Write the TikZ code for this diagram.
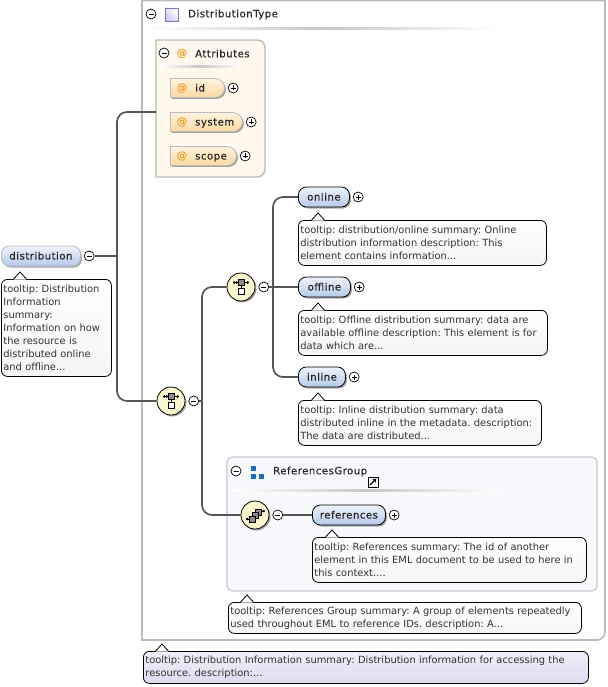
\documentclass[tikz,border=0pt]{standalone}
\usepackage{fontspec}
\setmainfont{DejaVu Sans}
\newfontfamily\labelfont[FakeBold=0.35,LetterSpace=5]{DejaVu Sans}
\usetikzlibrary{positioning,shapes.misc,shadows,arrows.meta}

\definecolor{boxgray}{HTML}{BBBBBB}
\definecolor{connline}{HTML}{555555}
\definecolor{attrfill}{HTML}{FFF8EC}
\definecolor{atorange}{HTML}{F0A030}
\definecolor{groupfill}{HTML}{F8F9FC}
\definecolor{groupedge}{HTML}{C6CAD2}
\definecolor{groupblue}{HTML}{1F6FB8}
\definecolor{elemtop}{HTML}{EEF3FB}
\definecolor{elembottom}{HTML}{B5CAEA}
\definecolor{attrtop}{HTML}{FFF3E0}
\definecolor{attrbottom}{HTML}{FCD9A0}
\definecolor{lavtop}{HTML}{F0EEF8}
\definecolor{lavbottom}{HTML}{DFDBF0}
\definecolor{typeedge}{HTML}{8A70C0}
\definecolor{typefill}{HTML}{CFC6EA}
\definecolor{compfill}{HTML}{FBF7CF}

\tikzset{
  softshadow/.style={drop shadow={shadow xshift=1.5pt, shadow yshift=-1.5pt, fill=black, opacity=.35}},
  conn/.style={draw=connline, line width=1.7pt},
  labeltext/.style={font=\fontsize{10.1}{12}\labelfont\selectfont, text=black!85},
  atsign/.style={text=atorange, font=\fontsize{10.4}{12}\labelfont\selectfont, inner sep=0pt},
  elem/.style={labeltext, draw=black, line width=.8pt, rounded corners=8pt, minimum height=20pt, inner sep=0pt,
    top color=elemtop, bottom color=elembottom, softshadow, text height=8.5pt, text depth=1.5pt},
  attr/.style={labeltext, rounded rectangle, rounded rectangle west arc=none, draw=boxgray, line width=.8pt,
    minimum height=19pt, inner sep=0pt, top color=attrtop, bottom color=attrbottom, softshadow},
  tip/.style={draw=black, line width=.8pt, rounded corners=6pt, anchor=north west, inner sep=2pt, align=left,
    font=\fontsize{9.9}{13}\selectfont, text=black!80, top color=white, bottom color=black!4},
  btn/.style={circle, draw=black, fill=white, line width=.7pt, minimum size=10pt, inner sep=0pt},
  btnminus/.style={btn, path picture={
    \draw ([xshift=-2.5pt]path picture bounding box.center) -- ([xshift=2.5pt]path picture bounding box.center);}},
  btnplus/.style={btn, path picture={
    \draw ([xshift=-2.5pt]path picture bounding box.center) -- ([xshift=2.5pt]path picture bounding box.center);
    \draw ([yshift=-2.5pt]path picture bounding box.center) -- ([yshift=2.5pt]path picture bounding box.center);}},
  compositor/.style={circle, draw=black, line width=.8pt, fill=compfill, minimum size=28pt, inner sep=0pt, softshadow},
  headrule/.style={left color=white, right color=white, middle color=black!22},
  icon/.style={draw=black, line width=.7pt},
}

\begin{document}
\frenchspacing
\begin{tikzpicture}[x=1pt, y=-1pt]
\useasboundingbox (0,0) rectangle (607,687);

% type box
\draw[draw=boxgray, line width=1.6pt, fill=white] (142,640) -- (142,0.5) -- (605,0.5) -- (605,630)
  [rounded corners=8pt] -- (605,640) -- (590,640) [sharp corners] -- cycle;
\node[btnminus] (minustype) at (151,14) {};
\draw[draw=typeedge, line width=.8pt, top color=typefill, bottom color=white, shading angle=135] (165,8) rectangle (178,21);
\node[labeltext, anchor=west, inner sep=0pt] (typelabel) at (188,14.5) {DistributionType};
\shade[headrule] (146,28) rectangle (500,30);

% attributes
\draw[draw=boxgray, line width=1.4pt, fill=attrfill] (156,40) -- (250,40)
  [rounded corners=8pt] -- (265,40) -- (265,177) -- (250,177) [sharp corners] -- (156,177) -- cycle;
\coordinate (attrjoin) at (156,112);
\node[btnminus] (minusattr) at (164,53) {};
\node[atsign] (atattr) at (182,53.5) {@};
\node[labeltext, anchor=west, inner sep=0pt] (attrlabel) at (195,53.5) {Attributes};
\shade[headrule] (160,66) rectangle (240,68);
\foreach \aname/\awidth/\ay in {id/54/88, system/72/122, scope/66/156}
  {
  \node[attr, anchor=west, minimum width=\awidth pt] (attr\aname) at (170,\ay) {};
  \node[atsign] (at\aname) at (182,\ay) {@};
  \node[labeltext, anchor=west, inner sep=0pt, text height=8.5pt, text depth=1.5pt] (label\aname) at (195,\ay) {\aname};
  \node[btnplus, right=3pt of attr\aname] (plus\aname) {};
  }

% group box
\draw[draw=groupedge, line width=1.2pt, fill=groupfill, rounded corners=5pt] (227,457) rectangle (597,591);
\node[btnminus] (minusgroup) at (236,471) {};
\foreach \sx/\sy in {251/466, 251/474, 259/474}
  {
  \fill[groupblue] (\sx,\sy) rectangle ++(4.5,4.5);
  }
\node[labeltext, anchor=west, inner sep=0pt] (grouplabel) at (273,471.5) {ReferencesGroup};
\draw[draw=black, line width=.8pt, fill=white] (368,477) rectangle (378,487);
\draw[-{Stealth[length=4pt,width=4.5pt]}, line width=1.3pt] (370,485) -- (376.5,478.5);
\shade[headrule] (232,489) rectangle (500,491);

% distribution element
\node[elem, draw=boxgray, anchor=west, minimum width=79pt] (distribution) at (1,256) {distribution};
\node[btnminus, right=3pt of distribution] (minusdist) {};
\node[tip, text width=106pt, minimum width=110pt, minimum height=97pt] (tipdist) at (1,279)
  {tooltip: Distribution\\Information\\summary:\\Information on how\\the resource is\\distributed online\\and offline...};

% compositors
\node[compositor] (seqmain) at (171,401) {};
\node[btnminus, right=3pt of seqmain] (minusmain) {};
\node[compositor] (seqsub) at (241,287) {};
\node[btnminus, right=3pt of seqsub] (minussub) {};
\node[compositor] (choiceref) at (255,515) {};
\node[btnminus, right=3pt of choiceref] (minusref) {};

\foreach \cname in {seqmain, seqsub}
  {
  \draw[icon, fill=black!45] ([shift={(-3,-7.5)}]\cname.center) rectangle ([shift={(3,-1.5)}]\cname.center);
  \draw[icon, fill=white] ([shift={(-3,1)}]\cname.center) rectangle ([shift={(3,7.5)}]\cname.center);
  \draw[icon, {Circle[length=2.5pt]}-{Circle[length=2.5pt]}] ([shift={(-8,-4.5)}]\cname.center) -- ([shift={(-3,-4.5)}]\cname.center);
  \draw[icon, -{Circle[length=2.5pt]}] ([shift={(3,-4.5)}]\cname.center) -- ([shift={(8,-4.5)}]\cname.center);
  \draw[icon] ([shift={(0,-1.5)}]\cname.center) -- ([shift={(0,1)}]\cname.center);
  }
\foreach \sx/\sy in {0/-6, -3/-2.5, -6/1}
  {
  \draw[icon, fill=black!45] ([shift={(\sx,\sy)}]choiceref.center) rectangle ++(6,6);
  }
\draw[icon, {Circle[length=2.5pt]}-] ([shift={(-9,4)}]choiceref.center) -- ([shift={(-6,4)}]choiceref.center);
\draw[icon, -{Circle[length=2.5pt]}] ([shift={(6,-4)}]choiceref.center) -- ([shift={(10,-4)}]choiceref.center);

% child elements
\foreach \ename/\ex/\ey/\ewidth in {online/298/197/51, offline/298/287/52, inline/298/377/47, references/312/515/73}
  {
  \node[elem, anchor=west, minimum width=\ewidth pt] (\ename) at (\ex,\ey) {\ename};
  \node[btnplus, right=3pt of \ename] (plus\ename) {};
  }

% tooltips
\node[tip, text width=244pt, minimum width=248pt, minimum height=45pt] (tiponline) at (298,220)
  {tooltip: distribution/online summary: Online\\distribution information description: This\\element contains information...};
\node[tip, text width=245pt, minimum width=249pt, minimum height=45pt] (tipoffline) at (298,310)
  {tooltip: Offline distribution summary: data are\\available offline description: This element is for\\data which are...};
\node[tip, text width=239pt, minimum width=243pt, minimum height=45pt] (tipinline) at (298,400)
  {tooltip: Inline distribution summary: data\\distributed inline in the metadata. description:\\The data are distributed...};
\node[tip, text width=270pt, minimum width=274pt, minimum height=45pt] (tipref) at (312,537)
  {tooltip: References summary: The id of another\\element in this EML document to be used to here in\\this context....};
\node[tip, text width=349pt, minimum width=353pt, minimum height=31pt] (tipgroup) at (228,602)
  {tooltip: References Group summary: A group of elements repeatedly\\used throughout EML to reference IDs. description: A...};
\node[tip, top color=lavtop, bottom color=lavbottom, text width=441pt, minimum width=445pt, minimum height=32pt] (tiptype) at (143,651)
  {tooltip: Distribution Information summary: Distribution information for accessing the\\resource. description:...};

\foreach \tname/\tdx in {tipdist/19, tiponline/20, tipoffline/20, tipinline/20, tipref/20, tipgroup/19, tiptype/19}
  {
  \draw[draw=black, line width=.8pt, fill=white] ([shift={(\tdx-7,.7)}]\tname.north west) -- ([shift={(\tdx,-7)}]\tname.north west) -- ([shift={(\tdx+7,.7)}]\tname.north west);
  }

% connectors
\coordinate (trunkmain) at (117,256);
\coordinate (trunkseq) at (202,401);
\coordinate (trunksub) at (273,287);
\draw[conn, line width=2.2pt] (minusdist) -- (trunkmain);
\draw[conn, rounded corners=10pt] (attrjoin) -| (trunkmain) |- (seqmain);
\draw[conn] (minusmain) -- (trunkseq);
\draw[conn, rounded corners=10pt] (seqsub) -| (trunkseq) |- (choiceref);
\draw[conn] (minussub) -- (trunksub);
\draw[conn, rounded corners=10pt] (online) -| (trunksub) |- (inline);
\draw[conn] (trunksub) -- (offline);
\draw[conn] (minusref) -- (references);

\end{tikzpicture}
\end{document}
